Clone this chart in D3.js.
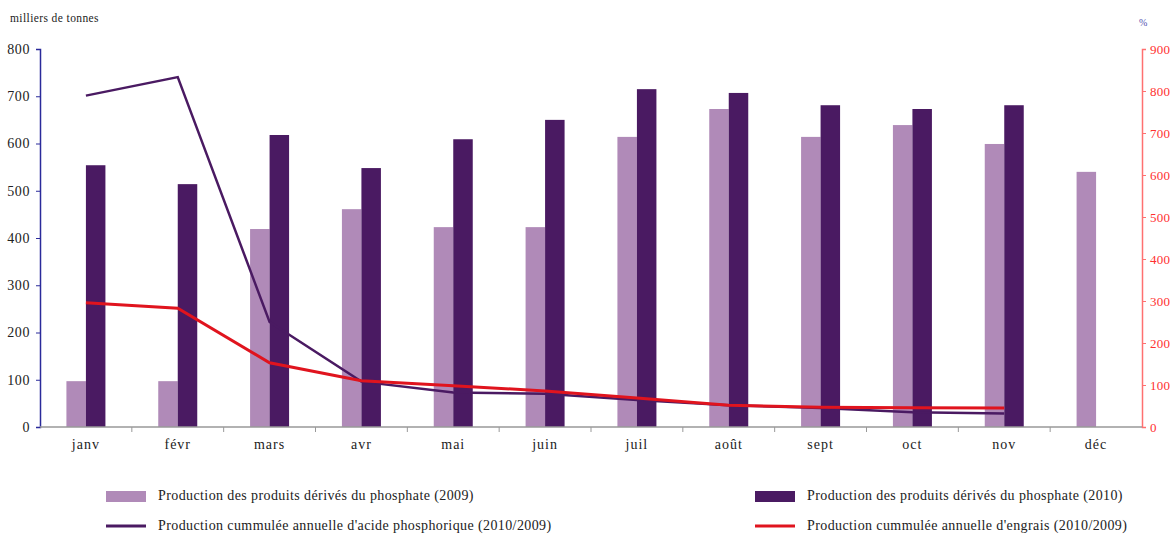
<!DOCTYPE html>
<html><head><meta charset="utf-8">
<script src="https://cdn.jsdelivr.net/npm/d3@7"></script>
<style>body{margin:0;background:#fff}svg{display:block}svg text{font-family:"Liberation Serif","DejaVu Serif",serif !important}</style>
</head><body>
<svg id="c" width="1172" height="534"></svg>
<script>
const months = ["janv","févr","mars","avr","mai","juin","juil","août","sept","oct","nov","déc"];
const prod2009 = [97, 97, 419, 461, 423, 423, 614, 673, 614, 639, 599, 540];
const prod2010 = [554, 514, 618, 548, 609, 650, 715, 707, 681, 673, 681, null];
const acide = [789, 833, 250, 108, 82, 79, 64, 52, 45, 35, 32];
const engrais = [296, 283, 153, 110, 98, 86, 69, 52, 47, 46, 45];
const leftTicks = [0,100,200,300,400,500,600,700,800];
const rightTicks = [0,100,200,300,400,500,600,700,800,900];
const legendLabels = ["Production des produits dérivés du phosphate (2009)","Production des produits dérivés du phosphate (2010)","Production cummulée annuelle d'acide phosphorique (2010/2009)","Production cummulée annuelle d'engrais (2010/2009)"];

const C1="#b08ab8", C2="#4a1a62", CR="#e0141e";
const FONT='"Liberation Serif","DejaVu Serif",serif';
const svg=d3.select("#c");
const L=40,R=1142,T=49,B=427;
const x=d3.scaleBand().domain(months).range([L,R]);
const yL=d3.scaleLinear().domain([0,800]).range([B,T]);
const yR=d3.scaleLinear().domain([0,900]).range([B,T]);
const bw=19.5;

// bars
svg.append("g").selectAll("rect").data(months).join("rect")
  .attr("x",d=>x(d)+x.bandwidth()/2-bw).attr("width",bw)
  .attr("y",(d,i)=>yL(prod2009[i])).attr("height",(d,i)=>B-yL(prod2009[i])).attr("fill",C1);
svg.append("g").selectAll("rect").data(months.filter((d,i)=>prod2010[i]!=null)).join("rect")
  .attr("x",d=>x(d)+x.bandwidth()/2).attr("width",bw)
  .attr("y",(d,i)=>yL(prod2010[i])).attr("height",(d,i)=>B-yL(prod2010[i])).attr("fill",C2);

// axes
const ga=svg.append("g").attr("transform",`translate(${L},0)`).call(d3.axisLeft(yL).tickValues(leftTicks).tickSize(4).tickPadding(6));
ga.attr("font-family",FONT);
ga.select(".domain").attr("stroke","#2a2a9a").attr("stroke-width",1.5);
ga.selectAll(".tick line").attr("stroke","#2a2a9a");
ga.selectAll("text").attr("font-size",14).attr("letter-spacing",0.6).attr("fill","#222");

const gr=svg.append("g").attr("transform",`translate(${R},0)`).call(d3.axisRight(yR).tickValues(rightTicks).tickSize(4).tickPadding(4));
gr.attr("font-family",FONT);
gr.select(".domain").attr("stroke","#ff7070").attr("stroke-width",1.5);
gr.selectAll(".tick line").attr("stroke","#ff7070");
gr.selectAll("text").attr("font-size",13).attr("letter-spacing",0.3).attr("fill","#ff3030");

const gx=svg.append("g").attr("transform",`translate(0,${B})`).call(d3.axisBottom(x).tickSize(0).tickPadding(12));
gx.attr("font-family",FONT);
gx.select(".domain").remove();
gx.selectAll("text").attr("font-size",14).attr("letter-spacing",1).attr("fill","#222");
svg.append("line").attr("x1",L).attr("x2",R).attr("y1",B).attr("y2",B).attr("stroke","#999").attr("stroke-width",1.5);
svg.append("g").selectAll("line").data(months.slice(1)).join("line")
  .attr("x1",d=>x(d)).attr("x2",d=>x(d)).attr("y1",B).attr("y2",B+5).attr("stroke","#999");

// lines
const lineFn=d3.line().x((d,i)=>x(months[i])+x.bandwidth()/2).y(d=>yR(d));
svg.append("path").datum(acide).attr("d",lineFn).attr("fill","none").attr("stroke",C2).attr("stroke-width",2.5);
svg.append("path").datum(engrais).attr("d",lineFn).attr("fill","none").attr("stroke",CR).attr("stroke-width",3);

// labels
svg.append("text").attr("x",10).attr("y",22).attr("font-family",FONT).attr("font-size",11.5).attr("letter-spacing",0.4).attr("fill","#222").text("milliers de tonnes");
svg.append("text").attr("x",1139).attr("y",26).attr("font-family",FONT).attr("font-size",10).attr("fill","#5050b0").text("%");

// legend
const lg=svg.append("g").attr("font-family",FONT);
const items=[{x:106,y:496,t:"rect",c:C1},{x:755,y:496,t:"rect",c:C2},{x:106,y:526,t:"line",c:C2},{x:755,y:526,t:"line",c:CR}];
items.forEach((it,i)=>{
  if(it.t==="rect") lg.append("rect").attr("x",it.x).attr("y",it.y-5).attr("width",40).attr("height",11).attr("fill",it.c);
  else lg.append("line").attr("x1",it.x).attr("x2",it.x+40).attr("y1",it.y).attr("y2",it.y).attr("stroke",it.c).attr("stroke-width",3);
  lg.append("text").attr("x",it.x+52).attr("y",it.y+4).attr("font-size",14).attr("letter-spacing",0.4).attr("fill","#222").text(legendLabels[i]);
});
</script>
</body></html>
